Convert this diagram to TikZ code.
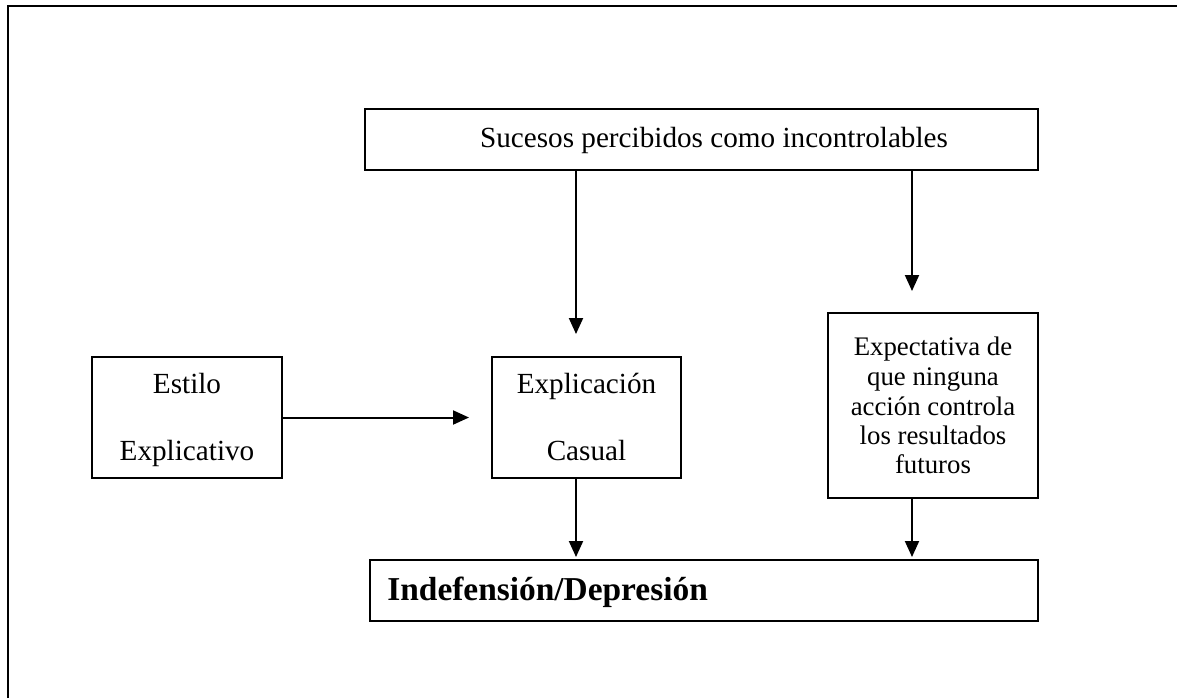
\documentclass[tikz,border=0pt]{standalone}
\usepackage{fontspec}
\setmainfont{Liberation Serif}
\usetikzlibrary{arrows.meta}
\begin{document}
\begin{tikzpicture}[x=0.5pt,y=-0.5pt,
  box/.style={draw,line width=1pt,inner sep=0pt,rectangle},
  lbl/.style={anchor=base,inner sep=0pt,font=\fontsize{14.6pt}{17pt}\selectfont},
  small/.style={anchor=base,inner sep=0pt,font=\fontsize{13.4pt}{15pt}\selectfont},
  arr/.style={line width=1pt,-{Triangle[length=8pt,width=7pt]}},
  frame/.style={line width=1.3pt}]
\useasboundingbox (0,0) rectangle (1177,698);
% outer frame
\coordinate (f1) at (8,698);
\coordinate (f2) at (8,6);
\coordinate (f3) at (1177,6);
\draw[frame] (f1) -- (f2) -- (f3);
% boxes
\node[box,minimum width=336.5pt,minimum height=30.5pt] (top) at (701.5,139.5) {};
\node[box,minimum width=95pt,minimum height=60.5pt] (estilo) at (187,417.5) {};
\node[box,minimum width=94.5pt,minimum height=60.5pt] (expl) at (586.5,417.5) {};
\node[box,minimum width=105pt,minimum height=92.5pt] (expect) at (933,405.5) {};
\node[box,minimum width=334pt,minimum height=30.5pt] (indef) at (704,590.5) {};
% texts
\node[lbl] (ttop) at (714,147) {Sucesos percibidos como incontrolables};
\node[lbl] (te1) at (187,393) {Estilo};
\node[lbl] (te2) at (187,460) {Explicativo};
\node[lbl] (tx1) at (586.5,393) {Explicación};
\node[lbl] (tx2) at (586.5,460) {Casual};
\node[small] (tp1) at (933,355) {Expectativa de};
\node[small] (tp2) at (933,385) {que ninguna};
\node[small] (tp3) at (933,415) {acción controla};
\node[small] (tp4) at (933,444) {los resultados};
\node[small] (tp5) at (933,473) {futuros};
\node[anchor=base west,inner sep=0pt,font=\fontsize{16.7pt}{19pt}\selectfont\bfseries] (ti) at (387,600) {Indefensión/Depresión};
% arrows
\draw[arr,shorten >=11pt] (top.south -| 576,0) -- (expl.north -| 576,0);
\draw[arr,shorten >=10.5pt] (top.south -| 912,0) -- (expect.north -| 912,0);
\draw[arr,shorten >=11pt] (estilo.east) -- (expl.west);
\draw[arr,shorten >=1pt] (expl.south -| 576,0) -- (indef.north -| 576,0);
\draw[arr,shorten >=1pt] (expect.south -| 912,0) -- (indef.north -| 912,0);
\end{tikzpicture}
\end{document}
